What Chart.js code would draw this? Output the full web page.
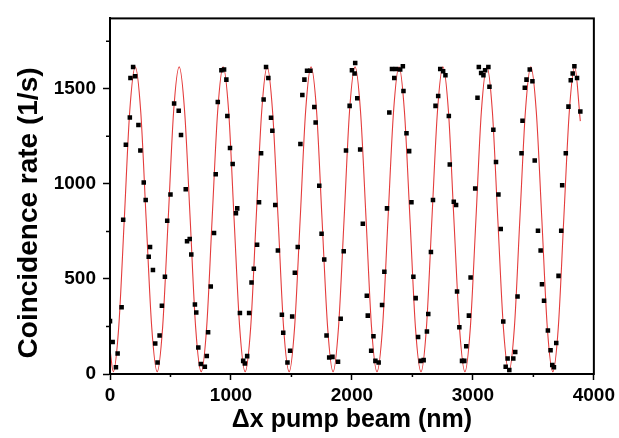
<!DOCTYPE html>
<html>
<head>
<meta charset="utf-8">
<script src="https://cdn.jsdelivr.net/npm/chart.js@4.4.1/dist/chart.umd.min.js"></script>
<style>
  html, body { margin: 0; padding: 0; background: #fff; }
  #caixa { width: 619px; height: 438px; }
</style>
</head>
<body>
<div id="caixa"><canvas id="grafico" width="619" height="438"></canvas></div>
<script>
// Pontos medidos (quadrados pretos)
const pontosX = [0, 22, 49, 63, 96, 109, 131, 164, 169, 191, 208, 235, 251, 279, 295, 320, 331, 355, 374, 393,
  410, 429, 454, 473, 500, 530, 568, 587,
  626, 637, 659, 672, 702, 713, 730, 751, 784, 800, 811, 833, 860, 874, 891, 921, 943, 962, 970, 992,
  1014, 1041, 1052, 1074, 1101, 1115, 1134, 1150, 1170, 1189, 1216, 1232, 1249, 1270, 1290, 1309, 1331, 1342,
  1366, 1388, 1421, 1432, 1467, 1489, 1506, 1528, 1552, 1574, 1590, 1607, 1629, 1656, 1689, 1700, 1730, 1749,
  1771, 1790, 1812, 1839, 1885, 1907, 1932, 1951, 1981, 2000, 2022, 2027, 2044,
  2068, 2090, 2123, 2131, 2159, 2178, 2194, 2221, 2249, 2268, 2290, 2309, 2331, 2350, 2363, 2399, 2421, 2426,
  2451, 2473, 2492, 2508, 2527, 2547, 2568, 2593, 2620, 2631, 2653, 2670, 2691, 2713, 2730,
  2754, 2773, 2801, 2809, 2842, 2861, 2869, 2888, 2910, 2929, 2945, 2967, 2981, 3019, 3038, 3049, 3068, 3087,
  3101, 3128, 3137, 3169, 3191, 3211, 3230, 3251, 3271, 3287, 3301, 3334, 3350, 3369, 3402, 3410, 3429, 3443,
  3470, 3492, 3511, 3538, 3560, 3571, 3588, 3620, 3642, 3656, 3670, 3689, 3708, 3730, 3738, 3768, 3790, 3809,
  3825, 3839, 3861, 3888];
const pontosY = [278, 168, 35, 108, 351, 811, 1205, 1349, 1557, 1614, 1566, 1309, 1175, 1007, 915, 616, 668, 547, 160, 61,
  203, 359, 512, 806, 944, 1423, 1384, 1257,
  972, 698, 710, 628, 365, 323, 139, 52, 38, 95, 220, 460, 741, 1050, 1430, 1597, 1601, 1548, 1357, 1189,
  1104, 845, 871, 321, 69, 55, 94, 321, 481, 554, 680, 903, 1161, 1444, 1614, 1557, 1347, 1279,
  889, 649, 312, 217, 61, 122, 302, 533, 668, 1210, 1467, 1548, 1595, 1595, 1404, 1323, 990, 738,
  602, 203, 87, 90, 64, 290, 646, 1175, 1410, 1597, 1580, 1635, 1450,
  1180, 790, 411, 307, 122, 198, 69, 61, 363, 538, 871, 1375, 1604, 1557, 1604, 1601, 1618, 1488,
  1266, 1172, 903, 512, 399, 194, 69, 73, 224, 316, 642, 915, 1410, 1462, 1604,
  1592, 1571, 1357, 1102, 906, 889, 434, 246, 69, 69, 146, 307, 507, 976, 1453, 1614, 1583, 1571,
  1597, 1614, 1510, 1285, 1115, 944, 762, 276, 38, 82, 21, 82, 116, 408, 1161, 1332, 1505, 1548,
  1601, 1540, 1123, 753, 649, 472, 385, 229, 125, 47, 35, 163, 516, 753, 993, 1161, 1406, 1545,
  1580, 1618, 1557, 1380];

// Curva ajustada (linha vermelha)
const ajusteX = [0, 27, 72, 118, 163, 209, 254, 299, 345, 390, 435, 481, 526, 572, 617, 663, 708,
  754, 799, 844, 890, 935, 981, 1026, 1072, 1117, 1163, 1208, 1254, 1299, 1344, 1390, 1435,
  1481, 1526, 1572, 1617, 1662, 1708, 1753, 1799, 1844, 1889, 1935, 1980, 2026, 2071, 2117, 2162,
  2207, 2253, 2298, 2344, 2389, 2434, 2480, 2525, 2571, 2616, 2661, 2707, 2752, 2798, 2843, 2889,
  2934, 2979, 3025, 3070, 3116, 3161, 3206, 3252, 3297, 3343, 3388, 3434, 3479, 3524, 3570, 3615,
  3661, 3706, 3751, 3797, 3842, 3888];
const ajusteY = [130, 12, 245, 812, 1380, 1615, 1380, 812, 245, 12, 245, 812, 1380, 1615, 1380, 812, 245,
  12, 245, 812, 1380, 1615, 1380, 812, 245, 12, 245, 812, 1380, 1615, 1380, 812, 245,
  12, 245, 812, 1380, 1615, 1380, 812, 245, 12, 245, 812, 1380, 1615, 1380, 812, 245,
  12, 245, 812, 1380, 1615, 1380, 812, 245, 12, 245, 812, 1380, 1615, 1380, 812, 245,
  12, 245, 812, 1380, 1615, 1380, 812, 245, 12, 245, 812, 1380, 1615, 1380, 812, 245,
  12, 245, 812, 1380, 1615, 1330];

// Marcas dos eixos
const xTicks = [0, 1000, 2000, 3000, 4000];
const xMenores = [500, 1500, 2500, 3500];
const yTicks = [0, 500, 1000, 1500];
const yMenores = [250, 750, 1250, 1750];

const fonte = "'Liberation Sans', Arial, sans-serif";

// Desenha as marcas menores e a moldura do gráfico
const moldura = {
  id: 'moldura',
  afterDraw(chart) {
    const ctx = chart.ctx;
    const { left, right, top, bottom } = chart.chartArea;
    const sx = chart.scales.x;
    const sy = chart.scales.y;
    ctx.save();
    ctx.strokeStyle = '#000';
    ctx.lineWidth = 1.5;
    ctx.beginPath();
    xMenores.forEach(v => {
      const px = sx.getPixelForValue(v);
      ctx.moveTo(px, bottom);
      ctx.lineTo(px, bottom + 3);
    });
    yMenores.forEach(v => {
      const py = sy.getPixelForValue(v);
      ctx.moveTo(left, py);
      ctx.lineTo(left - 4, py);
    });
    ctx.stroke();
    ctx.lineWidth = 2;
    ctx.strokeRect(left, top, right - left, bottom - top);
    ctx.restore();
  }
};

const ctx = document.getElementById('grafico').getContext('2d');
new Chart(ctx, {
  type: 'scatter',
  data: {
    datasets: [
      {
        label: 'dados',
        data: pontosX.map((x, i) => ({ x: x, y: pontosY[i] })),
        pointStyle: 'rect',
        pointRadius: 3.2,
        pointBackgroundColor: '#000',
        pointBorderWidth: 0,
        showLine: false
      },
      {
        type: 'line',
        label: 'ajuste',
        data: ajusteX.map((x, i) => ({ x: x, y: ajusteY[i] })),
        borderColor: 'rgb(228, 60, 60)',
        borderWidth: 1.1,
        pointRadius: 0,
        fill: false,
        cubicInterpolationMode: 'monotone'
      }
    ]
  },
  options: {
    responsive: false,
    animation: false,
    layout: { padding: { top: 14, right: 22, left: 0, bottom: 0 } },
    plugins: { legend: { display: false }, tooltip: { enabled: false } },
    scales: {
      x: {
        type: 'linear',
        min: 0,
        max: 4000,
        afterBuildTicks: s => { s.ticks = xTicks.map(v => ({ value: v })); },
        afterFit: s => { s.height = 64; },
        ticks: {
          color: '#000',
          padding: 4,
          font: { family: fonte, size: 19, weight: 'bold' },
          callback: v => String(v)
        },
        grid: { drawOnChartArea: false, tickLength: 6, tickWidth: 1.5, tickColor: '#000' },
        border: { color: '#000', width: 2 },
        title: {
          display: true,
          text: 'Δx pump beam (nm)',
          color: '#000',
          font: { family: fonte, size: 25, weight: 'bold' },
          padding: { top: 0, bottom: 3 }
        }
      },
      y: {
        type: 'linear',
        min: 0,
        max: 1870,
        afterBuildTicks: s => { s.ticks = yTicks.map(v => ({ value: v })); },
        afterFit: s => { s.width = 110; },
        ticks: {
          color: '#000',
          padding: 7,
          font: { family: fonte, size: 19, weight: 'bold' },
          callback: v => String(v)
        },
        grid: { drawOnChartArea: false, tickLength: 7, tickWidth: 1.5, tickColor: '#000' },
        border: { color: '#000', width: 2 },
        title: {
          display: true,
          text: '\u00a0\u00a0Coincidence rate (1/s)',
          align: 'start',
          color: '#000',
          font: { family: fonte, size: 28, weight: 'bold' },
          padding: { top: 12, bottom: 0 }
        }
      }
    }
  },
  plugins: [moldura]
});
</script>
</body>
</html>
